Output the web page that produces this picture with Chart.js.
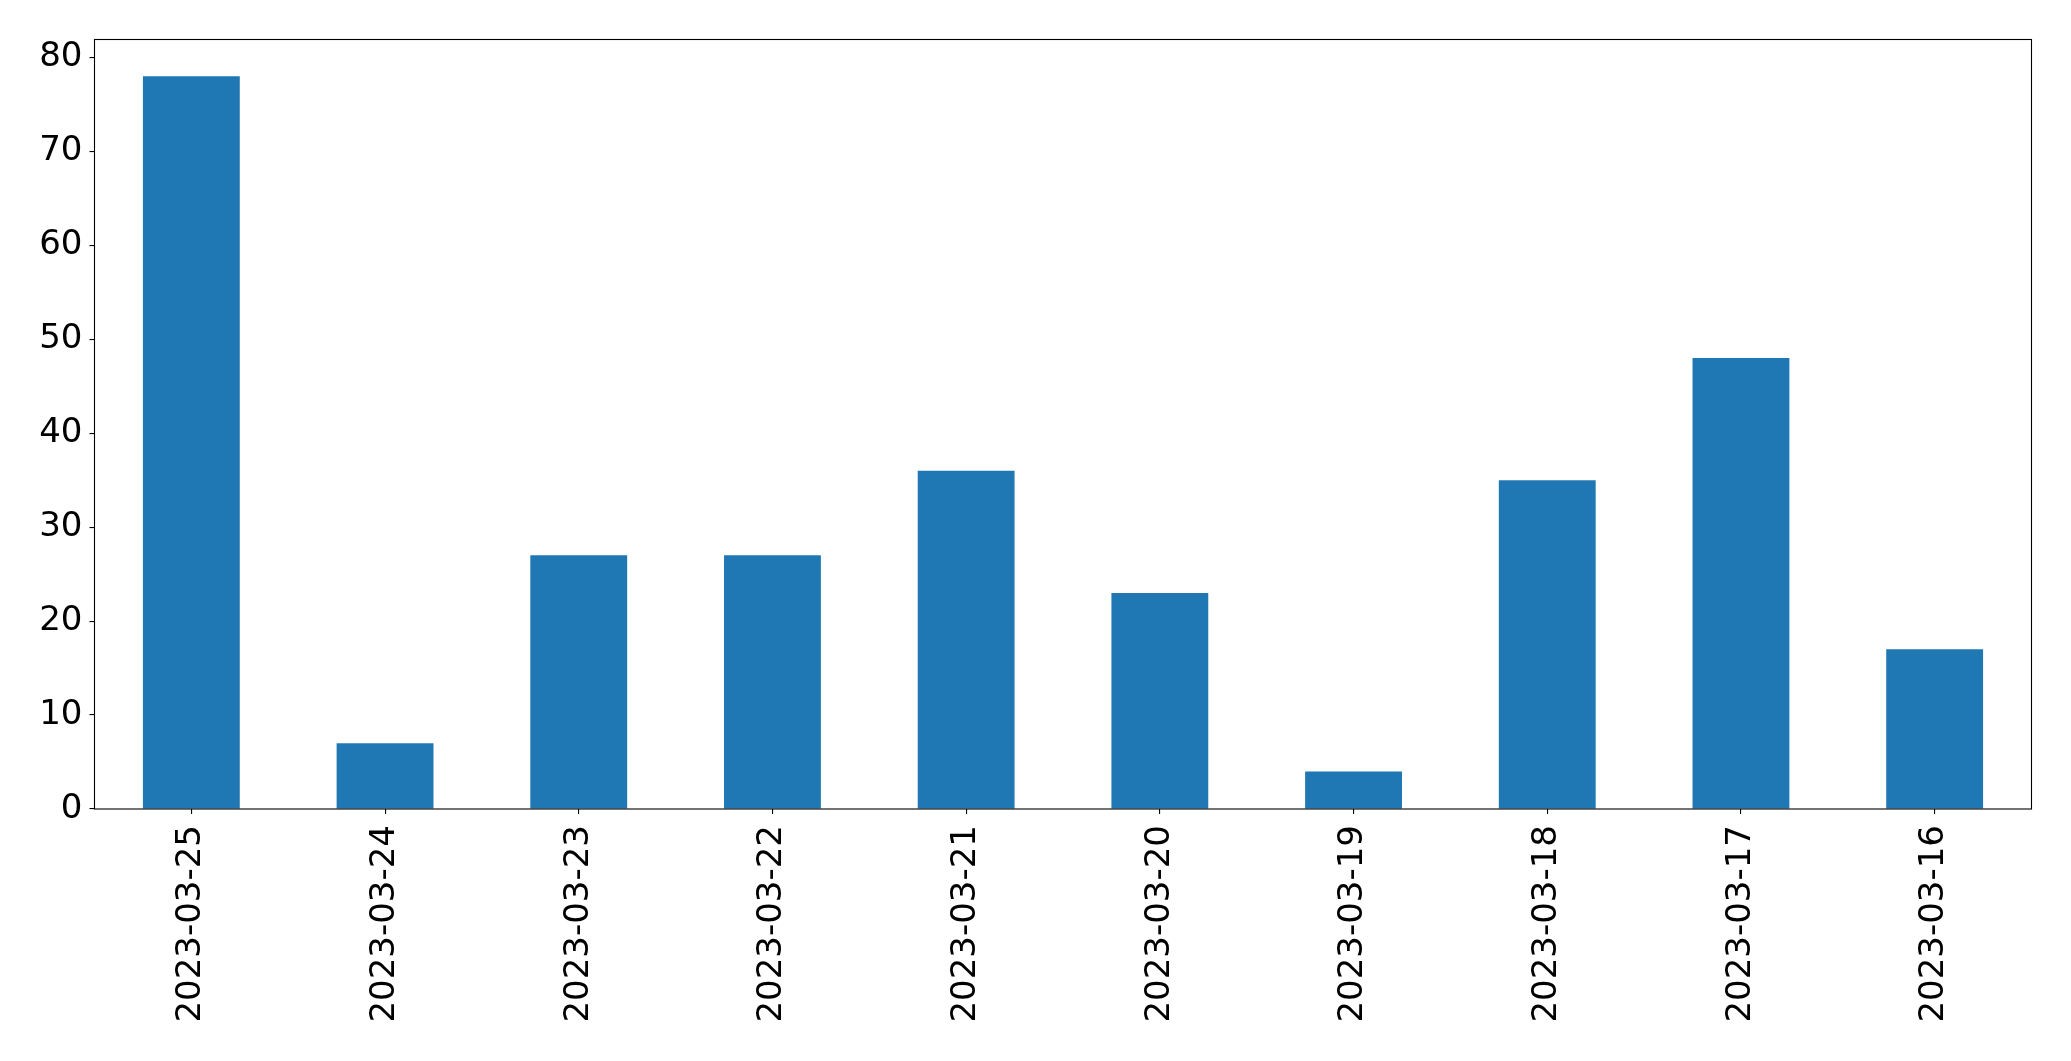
<!DOCTYPE html>
<html>
<head>
<meta charset="utf-8">
<script src="https://cdn.jsdelivr.net/npm/chart.js@4/dist/chart.umd.min.js"></script>
<style>
	body { margin: 0; background: #fff; }
	#wrap { width: 2071px; height: 1061px; }
</style>
</head>
<body>
<div id="wrap"><canvas id="chart" width="2071" height="1061"></canvas></div>
<script>
const dates = ["2023-03-25", "2023-03-24", "2023-03-23", "2023-03-22", "2023-03-21",
	"2023-03-20", "2023-03-19", "2023-03-18", "2023-03-17", "2023-03-16"];
const counts = [78, 7, 27, 27, 36, 23, 4, 35, 48, 17];
const yTicks = [0, 10, 20, 30, 40, 50, 60, 70, 80];

const fontFamily = "'DejaVu Sans', sans-serif";

// box around the plot area, like matplotlib spines
const frame = {
	id: "frame",
	afterDraw(chart) {
		const { ctx, chartArea } = chart;
		ctx.save();
		ctx.strokeStyle = "#000";
		ctx.lineWidth = 1.1;
		ctx.strokeRect(chartArea.left, chartArea.top,
			chartArea.right - chartArea.left, chartArea.bottom - chartArea.top);
		ctx.restore();
	},
};

const ctx = document.getElementById("chart").getContext("2d");
new Chart(ctx, {
	type: "bar",
	data: {
		labels: dates,
		datasets: [{
			data: counts,
			backgroundColor: "#1f77b4",
			categoryPercentage: 1,
			barPercentage: 0.5,
		}],
	},
	options: {
		responsive: false,
		animation: false,
		layout: { padding: { top: 39.5, right: 39.5, left: 0, bottom: 0 } },
		plugins: { legend: { display: false }, tooltip: { enabled: false } },
		scales: {
			x: {
				grid: { offset: false, drawOnChartArea: false, tickLength: 5, color: "#000", lineWidth: 1.1 },
				border: { display: false },
				ticks: {
					minRotation: 90, maxRotation: 90, autoSkip: false,
					padding: 11, color: "#000",
					font: { family: fontFamily, size: 34 },
				},
				afterFit(axis) { axis.height = 1061 - 809; },
			},
			y: {
				min: 0,
				max: 81.9,
				afterBuildTicks(axis) { axis.ticks = yTicks.map(v => ({ value: v })); },
				grid: { drawOnChartArea: false, tickLength: 5, color: "#000", lineWidth: 1.1 },
				border: { display: false },
				ticks: {
					padding: 7, color: "#000",
					font: { family: fontFamily, size: 34 },
				},
				afterFit(axis) { axis.width = 94.5; },
			},
		},
	},
	plugins: [frame],
});
</script>
</body>
</html>
